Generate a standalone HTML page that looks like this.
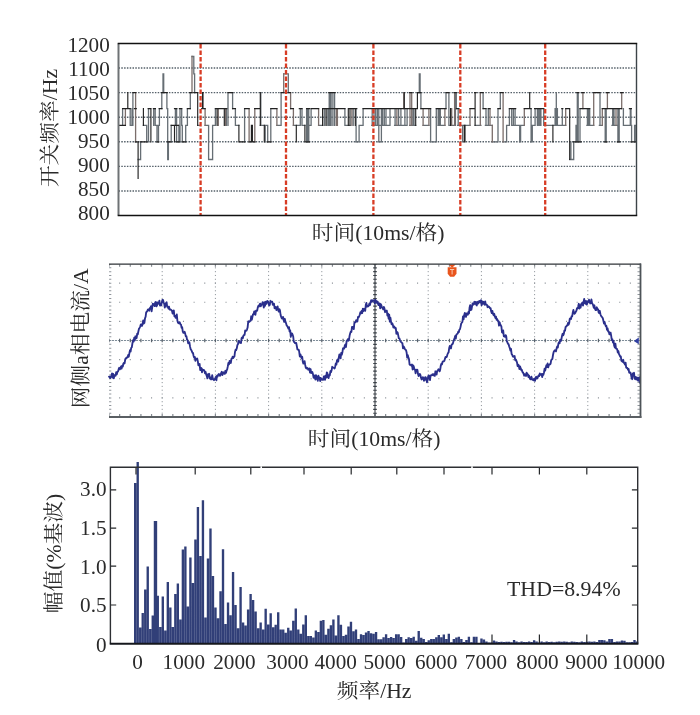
<!DOCTYPE html>
<html lang="zh-CN">
<head>
<meta charset="utf-8">
<title>开关频率 / 网侧a相电流 / 频谱</title>
<style>
html,body{margin:0;padding:0;background:#fff}
body{width:700px;height:715px;overflow:hidden}
svg{display:block;will-change:transform}
text{font-family:"Liberation Serif", "Noto Serif CJK SC", serif;fill:#2a2a2a}
.n{font-size:20px}
.t{font-size:20.5px}
.h{font-size:20.6px}
</style>
</head>
<body>
<svg width="700" height="715" viewBox="0 0 700 715">
<rect width="700" height="715" fill="#fff"/>
<g id="p1">
<line x1="118.5" y1="68.07" x2="636.5" y2="68.07" stroke="#56616a" stroke-width="1.45" stroke-dasharray="1.5 1.3"/>
<line x1="118.5" y1="92.64" x2="636.5" y2="92.64" stroke="#56616a" stroke-width="1.45" stroke-dasharray="1.5 1.3"/>
<line x1="118.5" y1="117.21" x2="636.5" y2="117.21" stroke="#56616a" stroke-width="1.45" stroke-dasharray="1.5 1.3"/>
<line x1="118.5" y1="141.79" x2="636.5" y2="141.79" stroke="#56616a" stroke-width="1.45" stroke-dasharray="1.5 1.3"/>
<line x1="118.5" y1="166.36" x2="636.5" y2="166.36" stroke="#56616a" stroke-width="1.45" stroke-dasharray="1.5 1.3"/>
<line x1="118.5" y1="190.93" x2="636.5" y2="190.93" stroke="#56616a" stroke-width="1.45" stroke-dasharray="1.5 1.3"/>
<path d="M122.6 108.6V125.3M130.2 108.6V125.3M132.0 108.6V125.3M130.2 125.3H132.9M132.9 92.6V125.3M138.1 159.5H140.6M140.6 141.8V159.5M143.4 125.3H146.7M146.7 125.3V141.8M148.5 108.6V141.8M153.7 108.6V125.3M155.2 108.6V125.3M155.2 125.3H157.2M157.0 125.3V141.8M158.5 125.3V141.8M159.4 108.6V125.3M161.8 92.6V108.6M163.0 73.8V92.6M163.7 73.8V92.6M166.9 92.6V108.6M167.7 108.6V159.5M168.4 141.8V159.5M171.2 125.3V141.8M175.4 108.6V125.3M176.6 108.6V141.8M178.9 125.3V141.8M180.0 108.6V141.8M181.7 108.6V125.3M182.3 125.3V141.8M185.7 125.3V141.8M185.7 125.3H187.4M187.4 108.6V125.3M190.3 92.6V108.6M192.0 56.5H193.8M193.8 56.5V73.8M194.6 73.8V92.6M197.7 125.3H199.4M205.1 125.3H208.6M208.6 125.3V159.5M208.6 159.5H212.6M212.6 125.3V159.5M212.6 125.3H215.4M215.4 108.6V125.3M226.4 108.6V125.3M228.0 92.6V125.3M232.6 92.6V108.6M235.4 108.6V125.3M235.4 125.3H238.9M244.6 108.6V141.8M260.8 92.6V125.3M260.3 125.3H264.3M265.2 125.3V141.8M264.3 125.3H267.7M267.7 125.3V141.8M270.8 108.6V141.8M276.9 125.3H281.1M281.1 92.6V125.3M283.7 73.8H288.3M288.3 73.8V92.6M293.4 125.3H300.3M300.3 108.6V125.3M302.0 108.6V125.3M302.0 125.3H304.9M306.6 108.6V141.8M307.7 108.6V141.8M308.8 108.6V141.8M309.0 125.3H311.1M311.1 108.6V125.3M318.6 125.3H322.6M324.3 108.6V125.3M329.2 92.6V125.3M329.9 92.6V125.3M327.1 108.6V125.3M328.6 108.6V125.3M331.1 92.6V125.3M332.9 92.6V125.3M334.6 92.6V125.3M344.9 108.6V125.3M344.9 125.3H350.0M353.2 108.6V125.3M356.1 108.6V141.8M355.7 141.8H359.1M359.1 125.3V141.8M359.1 125.3H363.1M363.1 108.6V125.3M372.2 108.6V125.3M374.0 108.6V125.3M375.7 108.6V125.3M377.4 108.6V125.3M378.8 108.6V141.8M378.2 141.8H381.6M381.4 108.6V141.8M382.6 108.6V125.3M384.3 108.6V125.3M386.0 108.6V125.3M371.7 125.3H390.0M390.0 108.6V125.3M395.1 108.6V125.3M398.6 108.6V125.3M394.6 125.3H406.0M400.9 108.6V125.3M404.9 108.6V125.3M407.1 108.6V125.3M404.9 125.3H407.1M412.9 108.6V125.3M414.0 108.6V125.3M409.6 125.3H415.7M419.3 73.8V92.6M420.1 73.8V92.6M420.9 92.6V108.6M423.1 125.3H428.9M430.6 108.6V141.8M430.6 141.8H436.3M436.3 108.6V141.8M438.2 108.6V125.3M439.3 108.6V125.3M440.3 108.6V125.3M438.0 125.3H444.9M446.0 92.6V108.6M448.9 92.6V125.3M448.9 125.3H454.6M455.4 92.6V125.3M456.3 92.6V108.6M458.2 108.6V125.3M457.6 125.3H462.6M462.6 125.3V141.8M462.6 125.3H470.0M475.1 125.3H480.9M483.1 92.6V108.6M486.0 108.6V125.3M485.4 125.3H492.3M488.3 108.6V125.3M492.3 141.8H498.0M498.0 108.6V141.8M500.3 92.6V108.6M503.1 141.8H506.6M506.6 125.3V141.8M506.6 125.3H509.4M509.4 108.6V125.3M511.7 108.6V125.3M513.4 108.6V125.3M515.1 108.6V125.3M511.7 125.3H523.7M519.7 125.3V141.8M520.6 125.3V141.8M531.1 108.6V141.8M530.6 141.8H532.3M532.3 125.3V141.8M532.3 125.3H535.1M535.1 108.6V125.3M537.4 108.6V125.3M538.3 108.6V125.3M539.7 108.6V125.3M540.9 108.6V125.3M543.7 108.6V125.3M543.7 125.3H558.0M555.1 108.6V125.3M556.3 92.6V125.3M557.4 108.6V125.3M558.0 125.3H565.7M562.3 108.6V125.3M570.9 141.8V159.5M569.7 159.5H573.7M573.7 141.8V159.5M576.0 125.3V141.8M576.0 125.3H578.0M577.3 92.6V141.8M578.2 92.6V141.8M580.0 108.6V141.8M587.4 108.6V125.3M588.4 108.6V125.3M586.9 125.3H593.7M589.7 108.6V125.3M600.0 92.6V125.3M599.4 125.3H602.3M605.2 108.6V141.8M606.2 108.6V141.8M612.7 108.6V125.3M614.0 108.6V125.3M612.0 125.3H617.1M617.9 108.6V141.8M619.2 108.6V141.8M623.4 108.6V125.3M623.4 125.3H630.3M630.3 108.6V125.3M631.0 108.6V125.3M631.6 125.3V141.8M634.6 125.3V141.8M635.2 125.3V141.8M634.6 125.3H636.3" fill="none" stroke="#666e74" stroke-width="1.3" stroke-linecap="square"/>
<path d="M125.4 108.6V125.3M135.6 92.6V141.8M192.0 56.5V92.6M205.1 108.6V125.3M218.3 108.6V125.3M225.4 108.6V125.3M249.1 108.6V141.8M254.8 108.6V141.8M276.9 108.6V125.3M283.7 73.8V92.6M290.6 92.6V108.6M293.4 108.6V125.3M318.6 108.6V125.3M336.3 108.6V125.3M337.4 108.6V125.3M351.9 108.6V125.3M396.9 108.6V125.3M403.7 92.6V108.6M410.0 92.6V125.3M411.7 92.6V125.3M423.1 108.6V125.3M428.9 108.6V125.3M444.9 108.6V125.3M451.7 108.6V125.3M454.6 92.6V125.3M470.0 108.6V125.3M480.3 92.6V125.3M490.0 108.6V125.3M492.3 125.3V141.8M503.1 92.6V141.8M524.3 108.6V125.3M565.7 108.6V125.3M582.9 92.6V108.6M593.7 92.6V125.3M602.3 108.6V125.3M607.4 92.6V108.6M616.0 108.6V125.3M621.7 92.6V108.6" fill="none" stroke="#7b6e6b" stroke-width="1.3" stroke-linecap="square"/>
<path d="M118.8 125.3H125.4M122.6 108.6H130.2M127.8 92.6V108.6M132.9 92.6H135.6M134.4 108.6H136.3M135.2 141.8H138.4M138.1 141.8V178.5M140.6 141.8H147.0M143.4 108.6V125.3M148.2 108.6H151.0M150.9 108.6V141.8M153.4 108.6H155.4M156.8 141.8H158.7M159.2 108.6H162.0M161.5 92.6H167.2M167.5 141.8H171.2M171.2 125.3H178.4M174.5 125.3V141.8M174.5 108.6H176.8M176.6 141.8H179.4M179.4 108.6H181.7M182.3 141.8H185.7M187.4 108.6H190.3M189.7 92.6H192.0M193.7 92.6H197.7M197.7 92.6V125.3M202.5 92.6V108.6M203.0 92.6V108.6M201.7 108.6H205.1M215.4 108.6H226.9M217.1 108.6V125.3M224.3 108.6V125.3M228.0 92.6H232.6M232.6 108.6H235.4M238.9 125.3V141.8M238.9 141.8H244.6M244.6 108.6H249.1M251.4 125.3V141.8M252.4 125.3V141.8M249.1 141.8H255.0M254.6 108.6H260.3M260.3 92.6V125.3M264.3 125.3V141.8M267.1 141.8H271.1M270.8 108.6H276.9M281.1 92.6H283.7M288.3 92.6H290.6M290.6 108.6H293.4M296.3 125.3V141.8M299.3 108.6H302.0M304.9 125.3V141.8M304.9 141.8H309.4M306.6 108.6H309.4M311.1 108.6H318.6M322.6 108.6V125.3M326.0 108.6V125.3M322.6 108.6H329.4M328.9 92.6H335.1M326.0 108.6H344.9M348.3 108.6V125.3M350.0 108.6V125.3M348.3 108.6H353.4M355.3 108.6V125.3M353.4 108.6H356.8M363.1 108.6H406.0M404.3 92.6V108.6M402.0 108.6H417.0M409.6 92.6H412.0M415.7 108.6V125.3M417.4 92.6V108.6M417.4 92.6H420.9M420.9 108.6H430.6M436.3 108.6H446.0M446.0 92.6H448.9M450.6 108.6V125.3M454.0 92.6H456.3M456.3 108.6H459.0M464.3 125.3V141.8M465.0 125.3V141.8M470.0 108.6H475.1M475.1 92.6V125.3M474.6 92.6H476.2M480.3 92.6H483.1M483.1 108.6H486.0M488.3 108.6H490.0M498.0 108.6H500.3M500.3 92.6H503.1M509.4 108.6H515.7M524.3 108.6H531.1M529.7 92.6V108.6M534.6 108.6H543.7M552.9 125.3V141.8M561.8 108.6H562.8M565.7 108.6H569.7M569.7 108.6V159.5M573.4 141.8H576.2M576.8 92.6H578.8M577.3 141.8H581.0M580.0 108.6H589.7M581.8 92.6H584.0M593.7 92.6H600.0M602.3 108.6H621.7M604.6 141.8H607.0M606.3 92.6H608.6M617.4 141.8H620.0M620.6 92.6H622.9M629.4 108.6H631.4M630.9 141.8H635.4" fill="none" stroke="#222222" stroke-width="1.15" stroke-linecap="square"/>
<line x1="200.6" y1="44.0" x2="200.6" y2="215.0" stroke="#d83c25" stroke-width="2.3" stroke-dasharray="4.4 2.1"/>
<line x1="286.0" y1="44.0" x2="286.0" y2="215.0" stroke="#d83c25" stroke-width="2.3" stroke-dasharray="4.4 2.1"/>
<line x1="373.4" y1="44.0" x2="373.4" y2="215.0" stroke="#d83c25" stroke-width="2.3" stroke-dasharray="4.4 2.1"/>
<line x1="460.3" y1="44.0" x2="460.3" y2="215.0" stroke="#d83c25" stroke-width="2.3" stroke-dasharray="4.4 2.1"/>
<line x1="545.2" y1="44.0" x2="545.2" y2="215.0" stroke="#d83c25" stroke-width="2.3" stroke-dasharray="4.4 2.1"/>
<path d="M118.5 215.5V43.5" stroke="#6e7275" stroke-width="2.0" fill="none"/>
<path d="M636.5 215.5V43.5" stroke="#3c4448" stroke-width="1.4" fill="none"/>
<path d="M117.7 43.5H637.2" stroke="#111" stroke-width="1.5" fill="none"/>
<path d="M117.7 215.5H637.2" stroke="#111" stroke-width="1.5" fill="none"/>
<text transform="translate(109.80 52.35) scale(1.06 1)" text-anchor="end" class="n">1200</text>
<text transform="translate(109.80 76.25) scale(1.06 1)" text-anchor="end" class="n">1100</text>
<text transform="translate(109.80 100.05) scale(1.06 1)" text-anchor="end" class="n">1050</text>
<text transform="translate(109.80 123.95) scale(1.06 1)" text-anchor="end" class="n">1000</text>
<text transform="translate(109.80 148.05) scale(1.06 1)" text-anchor="end" class="n">950</text>
<text transform="translate(109.80 171.95) scale(1.06 1)" text-anchor="end" class="n">900</text>
<text transform="translate(109.80 196.15) scale(1.06 1)" text-anchor="end" class="n">850</text>
<text transform="translate(109.80 219.75) scale(1.06 1)" text-anchor="end" class="n">800</text>
<text transform="translate(57.00 128.00) rotate(-90) scale(1.06 1)" text-anchor="middle" class="t">开关频率/Hz</text>
<text transform="translate(378.20 240.00) scale(1.06 1)" text-anchor="middle" class="t">时间(10ms/格)</text>
</g>
<g id="p2">
<line x1="162.20" y1="264.0" x2="162.20" y2="417.0" stroke="#8e949a" stroke-width="1" stroke-dasharray="1.1 2.725" stroke-dashoffset="0.55"/>
<line x1="215.40" y1="264.0" x2="215.40" y2="417.0" stroke="#8e949a" stroke-width="1" stroke-dasharray="1.1 2.725" stroke-dashoffset="0.55"/>
<line x1="268.60" y1="264.0" x2="268.60" y2="417.0" stroke="#8e949a" stroke-width="1" stroke-dasharray="1.1 2.725" stroke-dashoffset="0.55"/>
<line x1="321.80" y1="264.0" x2="321.80" y2="417.0" stroke="#8e949a" stroke-width="1" stroke-dasharray="1.1 2.725" stroke-dashoffset="0.55"/>
<line x1="428.20" y1="264.0" x2="428.20" y2="417.0" stroke="#8e949a" stroke-width="1" stroke-dasharray="1.1 2.725" stroke-dashoffset="0.55"/>
<line x1="481.40" y1="264.0" x2="481.40" y2="417.0" stroke="#8e949a" stroke-width="1" stroke-dasharray="1.1 2.725" stroke-dashoffset="0.55"/>
<line x1="534.60" y1="264.0" x2="534.60" y2="417.0" stroke="#8e949a" stroke-width="1" stroke-dasharray="1.1 2.725" stroke-dashoffset="0.55"/>
<line x1="587.80" y1="264.0" x2="587.80" y2="417.0" stroke="#8e949a" stroke-width="1" stroke-dasharray="1.1 2.725" stroke-dashoffset="0.55"/>
<line x1="109.0" y1="283.12" x2="641.0" y2="283.12" stroke="#8e949a" stroke-width="1.1" stroke-dasharray="1.1 9.540" stroke-dashoffset="0.55"/>
<line x1="109.0" y1="302.25" x2="641.0" y2="302.25" stroke="#8e949a" stroke-width="1.1" stroke-dasharray="1.1 9.540" stroke-dashoffset="0.55"/>
<line x1="109.0" y1="321.38" x2="641.0" y2="321.38" stroke="#8e949a" stroke-width="1.1" stroke-dasharray="1.1 9.540" stroke-dashoffset="0.55"/>
<line x1="109.0" y1="359.62" x2="641.0" y2="359.62" stroke="#8e949a" stroke-width="1.1" stroke-dasharray="1.1 9.540" stroke-dashoffset="0.55"/>
<line x1="109.0" y1="378.75" x2="641.0" y2="378.75" stroke="#8e949a" stroke-width="1.1" stroke-dasharray="1.1 9.540" stroke-dashoffset="0.55"/>
<line x1="109.0" y1="397.88" x2="641.0" y2="397.88" stroke="#8e949a" stroke-width="1.1" stroke-dasharray="1.1 9.540" stroke-dashoffset="0.55"/>
<line x1="110.2" y1="264.0" x2="110.2" y2="417.0" stroke="#8f959b" stroke-width="2.2" stroke-dasharray="1 2.825" stroke-dashoffset="0.5"/>
<line x1="638.7" y1="264.0" x2="638.7" y2="417.0" stroke="#8f959b" stroke-width="2.4" stroke-dasharray="1 2.825" stroke-dashoffset="0.5"/>
<line x1="109.0" y1="265.6" x2="641.0" y2="265.6" stroke="#858b91" stroke-width="2.2" stroke-dasharray="1.2 9.440" stroke-dashoffset="0.6"/>
<line x1="109.0" y1="415.0" x2="641.0" y2="415.0" stroke="#858b91" stroke-width="2.2" stroke-dasharray="1.2 9.440" stroke-dashoffset="0.6"/>
<line x1="109.0" y1="340.50" x2="641.0" y2="340.50" stroke="#7f8d99" stroke-width="1.0" stroke-dasharray="2.1 0.9"/>
<line x1="109.0" y1="340.50" x2="641.0" y2="340.50" stroke="#59626b" stroke-width="3.4" stroke-dasharray="1.2 9.440" stroke-dashoffset="0.6"/>
<line x1="375.00" y1="264.0" x2="375.00" y2="417.0" stroke="#3a3f46" stroke-width="1.1"/>
<line x1="375.00" y1="264.0" x2="375.00" y2="417.0" stroke="#3a4047" stroke-width="3.6" stroke-dasharray="1.1 2.725" stroke-dashoffset="0.55"/>
<path d="M109.0 376.6L109.6 376.9L110.2 378.1L110.8 377.0L111.4 375.6L112.0 373.5L112.6 377.7L113.2 373.9L113.8 378.3L114.4 375.6L115.0 374.9L115.6 375.8L116.2 372.2L116.8 374.4L117.4 372.0L118.0 371.4L118.6 369.4L119.2 367.8L119.8 369.3L120.4 368.6L121.0 366.5L121.6 368.6L122.2 365.8L122.8 366.5L123.4 363.5L124.0 362.7L124.6 363.4L125.2 359.5L125.8 358.2L126.4 358.4L127.0 357.2L127.6 357.3L128.2 354.9L128.8 356.7L129.4 353.2L130.0 350.3L130.6 351.5L131.2 347.9L131.8 347.4L132.4 343.5L133.0 340.3L133.6 341.6L134.2 337.8L134.8 340.3L135.4 336.3L136.0 338.2L136.6 338.2L137.2 333.6L137.8 334.3L138.4 331.3L139.0 328.7L139.6 328.0L140.2 326.5L140.8 324.5L141.4 324.5L142.0 326.0L142.6 323.9L143.2 320.4L143.8 323.5L144.4 322.8L145.0 318.4L145.6 316.8L146.2 312.2L146.8 311.8L147.4 310.7L148.0 309.4L148.6 309.4L149.2 310.7L149.8 308.1L150.4 307.9L151.0 306.2L151.6 311.3L152.2 307.7L152.8 303.7L153.4 304.1L154.0 304.7L154.6 306.1L155.2 302.5L155.8 301.9L156.4 306.3L157.0 305.7L157.6 302.4L158.2 303.2L158.8 303.7L159.4 300.6L160.0 305.6L160.6 305.4L161.2 305.3L161.8 302.5L162.4 299.9L163.0 300.0L163.6 302.3L164.2 303.7L164.8 307.5L165.4 305.4L166.0 303.0L166.6 302.2L167.2 306.9L167.8 306.5L168.4 308.5L169.0 306.6L169.6 309.6L170.2 309.1L170.8 309.6L171.4 310.2L172.0 310.9L172.6 313.5L173.2 311.2L173.8 310.4L174.4 316.2L175.0 315.7L175.6 317.8L176.2 317.2L176.8 314.5L177.4 320.8L178.0 322.8L178.6 323.2L179.2 322.2L179.8 322.4L180.4 324.4L181.0 324.6L181.6 327.7L182.2 327.3L182.8 331.7L183.4 332.9L184.0 332.6L184.6 331.7L185.2 333.6L185.8 336.4L186.4 336.1L187.0 339.5L187.6 340.2L188.2 343.3L188.8 342.4L189.4 342.3L190.0 346.4L190.6 349.0L191.2 349.9L191.8 351.1L192.4 352.8L193.0 352.9L193.6 356.0L194.2 357.6L194.8 357.0L195.4 360.8L196.0 358.7L196.6 359.3L197.2 358.4L197.8 361.1L198.4 365.3L199.0 364.4L199.6 363.9L200.2 370.0L200.8 369.4L201.4 368.0L202.0 372.4L202.6 369.5L203.2 370.2L203.8 370.0L204.4 370.6L205.0 373.4L205.6 371.9L206.2 374.5L206.8 376.1L207.4 378.4L208.0 374.1L208.6 376.2L209.2 373.8L209.8 378.6L210.4 377.4L211.0 379.4L211.6 379.3L212.2 375.1L212.8 378.4L213.4 379.6L214.0 380.2L214.6 379.2L215.2 378.6L215.8 376.9L216.4 380.3L217.0 375.7L217.6 376.6L218.2 374.8L218.8 374.0L219.4 374.6L220.0 375.8L220.6 374.7L221.2 372.9L221.8 371.8L222.4 375.0L223.0 372.9L223.6 372.3L224.2 373.6L224.8 373.9L225.4 370.8L226.0 372.9L226.6 370.5L227.2 369.4L227.8 366.4L228.4 363.0L229.0 364.3L229.6 360.9L230.2 362.6L230.8 363.0L231.4 359.0L232.0 358.5L232.6 356.7L233.2 358.1L233.8 357.1L234.4 356.6L235.0 352.0L235.6 349.7L236.2 350.0L236.8 348.3L237.4 345.0L238.0 344.2L238.6 340.9L239.2 341.3L239.8 342.6L240.4 342.9L241.0 343.0L241.6 338.1L242.2 337.4L242.8 338.3L243.4 335.7L244.0 335.0L244.6 334.8L245.2 330.4L245.8 330.9L246.4 330.7L247.0 329.6L247.6 327.6L248.2 321.8L248.8 321.3L249.4 321.8L250.0 320.9L250.6 320.8L251.2 316.3L251.8 319.7L252.4 317.1L253.0 314.1L253.6 314.4L254.2 311.5L254.8 311.5L255.4 314.9L256.0 310.7L256.6 311.0L257.2 310.7L257.8 307.3L258.4 305.8L259.0 306.6L259.6 304.6L260.2 303.6L260.8 306.3L261.4 304.4L262.0 304.6L262.6 302.2L263.2 303.5L263.8 307.6L264.4 302.3L265.0 305.9L265.6 301.8L266.2 303.9L266.8 301.6L267.4 300.9L268.0 301.4L268.6 304.0L269.2 305.5L269.8 304.8L270.4 300.8L271.0 301.7L271.6 301.8L272.2 301.7L272.8 304.8L273.4 303.9L274.0 303.6L274.6 308.3L275.2 307.4L275.8 307.0L276.4 310.0L277.0 308.5L277.6 306.5L278.2 310.1L278.8 311.6L279.4 309.2L280.0 310.5L280.6 315.0L281.2 316.9L281.8 318.3L282.4 318.6L283.0 316.9L283.6 319.9L284.2 321.9L284.8 318.8L285.4 321.7L286.0 323.1L286.6 325.3L287.2 326.0L287.8 327.2L288.4 328.5L289.0 327.2L289.6 331.6L290.2 330.3L290.8 336.9L291.4 333.4L292.0 333.4L292.6 334.7L293.2 336.5L293.8 341.8L294.4 341.8L295.0 343.1L295.6 343.1L296.2 343.0L296.8 346.0L297.4 349.3L298.0 349.6L298.6 349.6L299.2 351.6L299.8 356.5L300.4 354.3L301.0 356.3L301.6 358.1L302.2 356.8L302.8 361.7L303.4 363.6L304.0 362.7L304.6 361.1L305.2 364.9L305.8 367.7L306.4 368.6L307.0 367.8L307.6 368.2L308.2 369.7L308.8 368.9L309.4 368.4L310.0 372.5L310.6 369.1L311.2 373.1L311.8 371.9L312.4 372.2L313.0 374.3L313.6 377.6L314.2 377.9L314.8 375.4L315.4 379.5L316.0 375.2L316.6 378.7L317.2 376.7L317.8 380.8L318.4 375.7L319.0 377.5L319.6 377.6L320.2 381.1L320.8 378.0L321.4 379.7L322.0 379.3L322.6 379.8L323.2 379.9L323.8 376.4L324.4 376.5L325.0 379.8L325.6 375.6L326.2 377.7L326.8 372.4L327.4 373.1L328.0 377.4L328.6 378.0L329.2 375.0L329.8 375.3L330.4 371.1L331.0 372.2L331.6 370.3L332.2 366.8L332.8 367.5L333.4 367.6L334.0 368.0L334.6 368.5L335.2 366.4L335.8 363.5L336.4 364.6L337.0 360.3L337.6 359.6L338.2 361.6L338.8 357.5L339.4 354.5L340.0 356.1L340.6 358.3L341.2 352.9L341.8 354.7L342.4 352.3L343.0 348.4L343.6 348.1L344.2 348.6L344.8 345.5L345.4 344.5L346.0 347.0L346.6 341.1L347.2 340.6L347.8 339.1L348.4 340.7L349.0 339.7L349.6 335.6L350.2 333.2L350.8 331.5L351.4 332.0L352.0 326.9L352.6 327.0L353.2 328.3L353.8 329.1L354.4 322.5L355.0 322.2L355.6 322.3L356.2 320.1L356.8 321.0L357.4 321.5L358.0 317.0L358.6 317.4L359.2 316.1L359.8 314.5L360.4 312.3L361.0 313.5L361.6 310.9L362.2 313.0L362.8 308.8L363.4 311.1L364.0 308.8L364.6 310.3L365.2 310.8L365.8 304.9L366.4 303.0L367.0 306.7L367.6 306.2L368.2 306.3L368.8 305.6L369.4 303.4L370.0 305.0L370.6 302.1L371.2 300.2L371.8 301.8L372.4 301.1L373.0 300.1L373.6 300.8L374.2 300.4L374.8 303.4L375.4 299.6L376.0 302.2L376.6 301.1L377.2 303.2L377.8 301.8L378.4 305.1L379.0 303.6L379.6 303.4L380.2 308.3L380.8 304.2L381.4 305.5L382.0 307.5L382.6 308.3L383.2 309.4L383.8 306.9L384.4 308.2L385.0 312.2L385.6 310.5L386.2 311.2L386.8 310.6L387.4 315.6L388.0 313.6L388.6 318.7L389.2 314.6L389.8 321.6L390.4 317.7L391.0 321.6L391.6 324.3L392.2 323.2L392.8 324.6L393.4 327.5L394.0 326.4L394.6 327.1L395.2 328.5L395.8 328.0L396.4 333.8L397.0 332.0L397.6 332.4L398.2 335.1L398.8 338.2L399.4 338.3L400.0 340.3L400.6 341.7L401.2 342.0L401.8 342.8L402.4 343.2L403.0 348.4L403.6 346.4L404.2 347.3L404.8 349.0L405.4 349.7L406.0 350.1L406.6 352.4L407.2 357.7L407.8 355.1L408.4 357.7L409.0 359.1L409.6 364.7L410.2 364.7L410.8 364.8L411.4 365.8L412.0 364.5L412.6 369.5L413.2 365.5L413.8 366.7L414.4 369.2L415.0 369.7L415.6 373.3L416.2 369.7L416.8 371.1L417.4 369.8L418.0 373.9L418.6 376.0L419.2 375.1L419.8 373.9L420.4 375.0L421.0 377.8L421.6 379.5L422.2 378.8L422.8 377.2L423.4 377.9L424.0 380.7L424.6 380.2L425.2 377.2L425.8 377.4L426.4 379.1L427.0 382.3L427.6 380.4L428.2 376.2L428.8 375.4L429.4 377.8L430.0 380.1L430.6 375.5L431.2 375.4L431.8 375.1L432.4 374.3L433.0 375.2L433.6 374.1L434.2 375.5L434.8 375.9L435.4 371.3L436.0 372.4L436.6 374.6L437.2 370.9L437.8 370.5L438.4 369.3L439.0 369.7L439.6 371.4L440.2 369.7L440.8 365.5L441.4 363.7L442.0 364.4L442.6 361.7L443.2 361.3L443.8 361.3L444.4 360.8L445.0 358.6L445.6 356.9L446.2 357.2L446.8 356.9L447.4 354.5L448.0 353.1L448.6 352.4L449.2 348.1L449.8 345.9L450.4 348.1L451.0 348.4L451.6 344.8L452.2 344.1L452.8 343.8L453.4 341.6L454.0 339.8L454.6 338.0L455.2 335.9L455.8 338.7L456.4 334.7L457.0 334.0L457.6 333.7L458.2 331.8L458.8 332.2L459.4 329.7L460.0 329.1L460.6 326.6L461.2 323.5L461.8 322.7L462.4 322.0L463.0 316.4L463.6 319.4L464.2 315.2L464.8 312.9L465.4 316.5L466.0 316.8L466.6 313.4L467.2 313.8L467.8 314.8L468.4 312.0L469.0 313.5L469.6 307.4L470.2 305.1L470.8 310.1L471.4 309.7L472.0 306.6L472.6 303.4L473.2 304.7L473.8 304.4L474.4 301.8L475.0 303.9L475.6 302.0L476.2 304.6L476.8 305.4L477.4 301.8L478.0 303.6L478.6 302.9L479.2 301.0L479.8 301.6L480.4 302.4L481.0 300.2L481.6 305.3L482.2 301.3L482.8 303.7L483.4 301.8L484.0 304.0L484.6 304.7L485.2 301.5L485.8 304.6L486.4 304.5L487.0 305.0L487.6 307.2L488.2 306.3L488.8 306.6L489.4 307.2L490.0 308.2L490.6 308.2L491.2 311.5L491.8 313.1L492.4 311.0L493.0 313.9L493.6 315.2L494.2 313.8L494.8 316.3L495.4 318.0L496.0 316.6L496.6 319.8L497.2 319.0L497.8 320.9L498.4 320.9L499.0 325.7L499.6 322.3L500.2 324.1L500.8 325.3L501.4 326.5L502.0 332.3L502.6 332.8L503.2 330.5L503.8 336.2L504.4 336.1L505.0 336.8L505.6 335.1L506.2 336.1L506.8 341.3L507.4 342.3L508.0 343.8L508.6 344.3L509.2 346.5L509.8 348.1L510.4 350.6L511.0 348.8L511.6 353.9L512.2 354.8L512.8 356.5L513.4 356.2L514.0 357.0L514.6 356.0L515.2 360.2L515.8 359.4L516.4 361.0L517.0 362.3L517.6 366.2L518.2 364.6L518.8 365.6L519.4 369.1L520.0 366.4L520.6 368.1L521.2 370.1L521.8 369.7L522.4 371.9L523.0 372.5L523.6 373.8L524.2 375.7L524.8 374.1L525.4 375.2L526.0 376.1L526.6 372.6L527.2 374.6L527.8 374.3L528.4 377.0L529.0 375.5L529.6 377.8L530.2 379.2L530.8 379.4L531.4 376.7L532.0 378.6L532.6 379.8L533.2 379.2L533.8 380.3L534.4 378.6L535.0 380.9L535.6 377.8L536.2 376.8L536.8 378.6L537.4 378.4L538.0 376.7L538.6 375.5L539.2 376.1L539.8 373.5L540.4 374.3L541.0 375.0L541.6 374.0L542.2 377.0L542.8 374.0L543.4 374.7L544.0 372.5L544.6 368.6L545.2 370.6L545.8 367.7L546.4 365.1L547.0 367.1L547.6 363.4L548.2 367.4L548.8 365.3L549.4 364.5L550.0 364.4L550.6 363.6L551.2 360.2L551.8 359.5L552.4 358.9L553.0 355.0L553.6 352.2L554.2 351.0L554.8 350.3L555.4 350.8L556.0 351.4L556.6 348.4L557.2 346.5L557.8 347.5L558.4 343.6L559.0 342.2L559.6 343.3L560.2 339.7L560.8 341.1L561.4 339.4L562.0 335.9L562.6 333.8L563.2 335.4L563.8 334.0L564.4 330.4L565.0 330.8L565.6 327.0L566.2 326.6L566.8 325.5L567.4 325.5L568.0 322.9L568.6 324.7L569.2 323.0L569.8 318.7L570.4 318.3L571.0 319.0L571.6 316.2L572.2 316.3L572.8 312.4L573.4 309.9L574.0 313.5L574.6 313.8L575.2 313.0L575.8 311.7L576.4 310.8L577.0 308.2L577.6 308.6L578.2 306.5L578.8 303.8L579.4 308.6L580.0 305.5L580.6 307.6L581.2 304.1L581.8 303.4L582.4 302.6L583.0 305.6L583.6 302.1L584.2 299.0L584.8 303.1L585.4 303.7L586.0 301.0L586.6 304.5L587.2 303.9L587.8 301.1L588.4 302.0L589.0 299.7L589.6 302.0L590.2 303.5L590.8 303.2L591.4 299.5L592.0 302.9L592.6 304.0L593.2 305.5L593.8 307.8L594.4 305.3L595.0 308.9L595.6 310.1L596.2 310.0L596.8 307.3L597.4 309.4L598.0 309.2L598.6 312.4L599.2 313.1L599.8 310.8L600.4 314.2L601.0 315.8L601.6 316.6L602.2 317.2L602.8 318.2L603.4 320.8L604.0 323.6L604.6 321.9L605.2 324.5L605.8 326.3L606.4 325.8L607.0 329.9L607.6 328.3L608.2 331.6L608.8 331.5L609.4 334.3L610.0 333.6L610.6 332.6L611.2 335.9L611.8 340.1L612.4 339.3L613.0 342.5L613.6 341.0L614.2 345.8L614.8 347.5L615.4 343.7L616.0 348.6L616.6 348.6L617.2 349.4L617.8 352.6L618.4 351.1L619.0 354.1L619.6 355.2L620.2 356.5L620.8 356.4L621.4 360.8L622.0 361.2L622.6 361.8L623.2 359.8L623.8 362.7L624.4 363.4L625.0 364.5L625.6 362.6L626.2 367.6L626.8 368.0L627.4 368.0L628.0 369.8L628.6 368.9L629.2 372.7L629.8 372.9L630.4 372.5L631.0 374.6L631.6 377.7L632.2 379.2L632.8 373.5L633.4 373.7L634.0 372.8L634.6 378.3L635.2 379.2L635.8 376.9L636.4 378.5L637.0 379.7L637.6 377.7L638.2 380.8L638.8 378.8L639.4 377.3L640.0 382.8" fill="none" stroke="#2a2f8c" stroke-width="1.85" stroke-linejoin="round" stroke-linecap="round"/>
<path d="M447.7 267.2h8.8v6.6l-2.4 3h-4l-2.4-3z" fill="#e9551d"/>
<path d="M448.6 264.6h7l-3.5 3.2z" fill="#e9551d"/>
<path d="M450 269h4.2v1.1h-1.6v4.5h-1v-4.5h-1.6z" fill="#f9c9ae"/>
<path d="M633.8 340.9l5 -3.4v6.8z" fill="#2f3ea0"/>
<path d="M109.0 264.1H641.0" stroke="#2f3337" stroke-width="1.3" fill="none"/>
<path d="M640.5 263.5V418.0" stroke="#4d5358" stroke-width="1.8" fill="none"/>
<path d="M109.0 417.0H641.4" stroke="#5a5f63" stroke-width="2.2" fill="none"/>
<text transform="translate(88.00 338.30) rotate(-90) scale(1.06 1)" text-anchor="middle" class="t">网侧a相电流/A</text>
<text transform="translate(374.20 446.30) scale(1.06 1)" text-anchor="middle" class="t">时间(10ms/格)</text>
</g>
<g id="p3">
<path d="M134.02 643.6v-160.6h2.36v160.6zM136.53 643.6v-181.5h2.36v181.5zM139.04 643.6v-16.0h2.36v16.0zM141.55 643.6v-30.5h2.36v30.5zM144.06 643.6v-54.0h2.36v54.0zM146.56 643.6v-77.0h2.36v77.0zM149.07 643.6v-14.6h2.36v14.6zM151.58 643.6v-28.0h2.36v28.0zM153.77 643.6v-122.6h3.4v122.6zM156.60 643.6v-47.8h2.36v47.8zM159.11 643.6v-16.5h2.36v16.5zM161.62 643.6v-47.0h2.36v47.0zM164.13 643.6v-13.0h2.36v13.0zM166.64 643.6v-61.6h2.36v61.6zM169.15 643.6v-36.0h2.36v36.0zM171.65 643.6v-16.5h2.36v16.5zM174.16 643.6v-49.6h2.36v49.6zM176.67 643.6v-60.0h2.36v60.0zM179.18 643.6v-24.0h2.36v24.0zM181.69 643.6v-94.0h2.36v94.0zM184.20 643.6v-97.0h2.36v97.0zM186.71 643.6v-37.0h2.36v37.0zM189.22 643.6v-86.0h2.36v86.0zM191.73 643.6v-60.5h2.36v60.5zM194.24 643.6v-104.0h2.36v104.0zM196.74 643.6v-136.7h2.36v136.7zM199.25 643.6v-87.6h2.36v87.6zM201.76 643.6v-143.3h2.36v143.3zM204.27 643.6v-26.0h2.36v26.0zM206.78 643.6v-85.0h2.36v85.0zM209.29 643.6v-115.0h2.36v115.0zM211.80 643.6v-67.7h2.36v67.7zM214.31 643.6v-36.0h2.36v36.0zM216.82 643.6v-25.4h2.36v25.4zM219.33 643.6v-52.3h2.36v52.3zM221.83 643.6v-94.3h2.36v94.3zM224.34 643.6v-19.7h2.36v19.7zM226.85 643.6v-41.0h2.36v41.0zM229.36 643.6v-28.3h2.36v28.3zM231.87 643.6v-71.5h2.36v71.5zM234.38 643.6v-38.6h2.36v38.6zM236.89 643.6v-15.4h2.36v15.4zM239.40 643.6v-56.6h2.36v56.6zM241.91 643.6v-21.0h2.36v21.0zM244.42 643.6v-18.0h2.36v18.0zM246.92 643.6v-34.0h2.36v34.0zM249.43 643.6v-49.7h2.36v49.7zM251.94 643.6v-43.7h2.36v43.7zM254.45 643.6v-32.2h2.36v32.2zM256.96 643.6v-15.4h2.36v15.4zM259.47 643.6v-21.0h2.36v21.0zM261.98 643.6v-14.0h2.36v14.0zM264.49 643.6v-34.8h2.36v34.8zM267.00 643.6v-19.2h2.36v19.2zM269.51 643.6v-30.3h2.36v30.3zM272.01 643.6v-16.3h2.36v16.3zM274.52 643.6v-18.9h2.36v18.9zM277.03 643.6v-31.4h2.36v31.4zM279.54 643.6v-14.2h2.36v14.2zM282.05 643.6v-14.2h2.36v14.2zM284.56 643.6v-10.8h2.36v10.8zM287.07 643.6v-15.8h2.36v15.8zM289.58 643.6v-13.2h2.36v13.2zM292.09 643.6v-22.8h2.36v22.8zM294.60 643.6v-35.1h2.36v35.1zM297.10 643.6v-14.0h2.36v14.0zM299.61 643.6v-9.8h2.36v9.8zM302.12 643.6v-19.2h2.36v19.2zM304.63 643.6v-28.3h2.36v28.3zM307.14 643.6v-7.7h2.36v7.7zM309.65 643.6v-7.7h2.36v7.7zM312.16 643.6v-6.0h2.36v6.0zM314.67 643.6v-13.2h2.36v13.2zM317.18 643.6v-11.7h2.36v11.7zM319.69 643.6v-22.8h2.36v22.8zM322.19 643.6v-23.7h2.36v23.7zM324.70 643.6v-8.9h2.36v8.9zM327.21 643.6v-14.9h2.36v14.9zM329.72 643.6v-18.3h2.36v18.3zM332.23 643.6v-24.0h2.36v24.0zM334.74 643.6v-8.0h2.36v8.0zM337.25 643.6v-28.3h2.36v28.3zM339.76 643.6v-18.9h2.36v18.9zM342.27 643.6v-7.5h2.36v7.5zM344.78 643.6v-8.9h2.36v8.9zM347.28 643.6v-17.1h2.36v17.1zM349.79 643.6v-21.8h2.36v21.8zM352.30 643.6v-12.3h2.36v12.3zM354.81 643.6v-14.0h2.36v14.0zM357.32 643.6v-4.6h2.36v4.6zM359.83 643.6v-9.4h2.36v9.4zM362.34 643.6v-8.6h2.36v8.6zM364.85 643.6v-11.1h2.36v11.1zM367.36 643.6v-12.7h2.36v12.7zM369.87 643.6v-10.3h2.36v10.3zM372.37 643.6v-9.8h2.36v9.8zM374.88 643.6v-11.5h2.36v11.5zM377.39 643.6v-4.3h2.36v4.3zM379.90 643.6v-4.3h2.36v4.3zM382.41 643.6v-6.3h2.36v6.3zM384.92 643.6v-9.3h2.36v9.3zM387.43 643.6v-5.5h2.36v5.5zM389.94 643.6v-6.7h2.36v6.7zM392.45 643.6v-5.5h2.36v5.5zM394.96 643.6v-9.3h2.36v9.3zM397.46 643.6v-9.3h2.36v9.3zM399.97 643.6v-6.7h2.36v6.7zM402.48 643.6v-1.2h2.36v1.2zM404.99 643.6v-4.6h2.36v4.6zM407.50 643.6v-6.3h2.36v6.3zM410.01 643.6v-5.5h2.36v5.5zM412.52 643.6v-6.9h2.36v6.9zM415.03 643.6v-2.9h2.36v2.9zM417.54 643.6v-12.7h2.36v12.7zM420.05 643.6v-5.8h2.36v5.8zM422.55 643.6v-4.6h2.36v4.6zM425.06 643.6v-1.5h2.36v1.5zM427.57 643.6v-3.4h2.36v3.4zM430.08 643.6v-4.6h2.36v4.6zM432.59 643.6v-4.6h2.36v4.6zM435.10 643.6v-6.3h2.36v6.3zM437.61 643.6v-8.5h2.36v8.5zM440.12 643.6v-6.3h2.36v6.3zM442.63 643.6v-9.1h2.36v9.1zM445.14 643.6v-4.7h2.36v4.7zM447.64 643.6v-9.9h2.36v9.9zM450.15 643.6v-1.3h2.36v1.3zM452.66 643.6v-4.7h2.36v4.7zM455.17 643.6v-6.0h2.36v6.0zM457.68 643.6v-6.8h2.36v6.8zM460.19 643.6v-4.7h2.36v4.7zM462.70 643.6v-1.6h2.36v1.6zM465.21 643.6v-3.6h2.36v3.6zM467.72 643.6v-6.8h2.36v6.8zM470.23 643.6v-1.3h2.36v1.3zM472.73 643.6v-6.8h2.36v6.8zM475.24 643.6v-6.8h2.36v6.8zM477.75 643.6v-0.6h2.36v0.6zM480.26 643.6v-5.2h2.36v5.2zM482.77 643.6v-4.1h2.36v4.1zM485.28 643.6v-2.0h2.36v2.0zM487.79 643.6v-1.0h2.36v1.0zM490.30 643.6v-1.0h2.36v1.0zM492.81 643.6v-3.1h2.36v3.1zM495.32 643.6v-2.0h2.36v2.0zM497.82 643.6v-1.5h2.36v1.5zM500.33 643.6v-1.8h2.36v1.8zM502.84 643.6v-1.6h2.36v1.6zM505.35 643.6v-1.8h2.36v1.8zM507.86 643.6v-1.9h2.36v1.9zM510.37 643.6v-1.4h2.36v1.4zM512.88 643.6v-3.6h2.36v3.6zM515.39 643.6v-2.0h2.36v2.0zM517.90 643.6v-1.3h2.36v1.3zM520.41 643.6v-2.1h2.36v2.1zM522.92 643.6v-1.5h2.36v1.5zM525.42 643.6v-1.5h2.36v1.5zM527.93 643.6v-2.2h2.36v2.2zM530.44 643.6v-1.7h2.36v1.7zM532.95 643.6v-3.3h2.36v3.3zM535.46 643.6v-2.0h2.36v2.0zM537.97 643.6v-1.2h2.36v1.2zM540.48 643.6v-2.0h2.36v2.0zM542.99 643.6v-1.3h2.36v1.3zM545.50 643.6v-2.1h2.36v2.1zM548.00 643.6v-1.7h2.36v1.7zM550.51 643.6v-1.9h2.36v1.9zM553.02 643.6v-1.4h2.36v1.4zM555.53 643.6v-1.9h2.36v1.9zM558.04 643.6v-2.1h2.36v2.1zM560.55 643.6v-1.8h2.36v1.8zM563.06 643.6v-2.0h2.36v2.0zM565.57 643.6v-1.9h2.36v1.9zM568.08 643.6v-1.4h2.36v1.4zM570.59 643.6v-2.0h2.36v2.0zM573.10 643.6v-1.8h2.36v1.8zM575.60 643.6v-1.6h2.36v1.6zM578.11 643.6v-1.3h2.36v1.3zM580.62 643.6v-2.1h2.36v2.1zM583.13 643.6v-1.7h2.36v1.7zM585.64 643.6v-1.9h2.36v1.9zM588.15 643.6v-2.1h2.36v2.1zM590.66 643.6v-1.9h2.36v1.9zM593.17 643.6v-2.1h2.36v2.1zM595.68 643.6v-1.7h2.36v1.7zM598.19 643.6v-3.6h2.36v3.6zM600.69 643.6v-3.6h2.36v3.6zM603.20 643.6v-3.4h2.36v3.4zM605.71 643.6v-2.0h2.36v2.0zM608.22 643.6v-4.7h2.36v4.7zM610.73 643.6v-4.5h2.36v4.5zM613.24 643.6v-1.7h2.36v1.7zM615.75 643.6v-2.1h2.36v2.1zM618.26 643.6v-2.1h2.36v2.1zM620.77 643.6v-3.0h2.36v3.0zM623.27 643.6v-2.8h2.36v2.8zM625.78 643.6v-1.4h2.36v1.4zM628.29 643.6v-1.4h2.36v1.4zM630.80 643.6v-1.5h2.36v1.5zM633.31 643.6v-3.6h2.36v3.6zM635.82 643.6v-2.2h2.36v2.2z" fill="#313f78"/>
<path d="M136.0 467.3v7.2M195.2 467.3v7.2M250.8 467.3v7.2M304.0 467.3v7.2M351.2 467.3v7.2M396.8 467.3v7.2M444.0 467.3v7.2M492.0 467.3v7.2M492.0 643.6v-9M539.4 467.3v7.2M539.4 643.6v-9M586.8 467.3v7.2M586.8 643.6v-9M110.4 489.9h5.8M637.7 489.9h-5.8M110.4 528.2h5.8M637.7 528.2h-5.8M110.4 566.2h5.8M637.7 566.2h-5.8M110.4 605.0h5.8M637.7 605.0h-5.8" stroke="#26282b" stroke-width="1.2" fill="none"/>
<path d="M110.4 643.6V467.3H637.7V643.6" stroke="#2d2f33" stroke-width="1.4" fill="none"/>
<path d="M109.7 643.8000000000001H638.4000000000001" stroke="#15171c" stroke-width="1.9" fill="none"/>
<rect x="260.4" y="466.3" width="1.6" height="2" fill="#fff"/>
<rect x="471.2" y="466.3" width="1.6" height="2" fill="#fff"/>
<text transform="translate(106.60 496.35) scale(1.06 1)" text-anchor="end" class="n">3.0</text>
<text transform="translate(106.60 535.35) scale(1.06 1)" text-anchor="end" class="n">1.5</text>
<text transform="translate(106.60 573.85) scale(1.06 1)" text-anchor="end" class="n">1.0</text>
<text transform="translate(106.60 612.35) scale(1.06 1)" text-anchor="end" class="n">0.5</text>
<text transform="translate(106.60 652.15) scale(1.06 1)" text-anchor="end" class="n">0</text>
<text transform="translate(137.50 669.30) scale(1.06 1)" text-anchor="middle" class="n">0</text>
<text transform="translate(183.80 669.30) scale(1.06 1)" text-anchor="middle" class="n">1000</text>
<text transform="translate(234.40 669.30) scale(1.06 1)" text-anchor="middle" class="n">2000</text>
<text transform="translate(287.50 669.30) scale(1.06 1)" text-anchor="middle" class="n">3000</text>
<text transform="translate(335.70 669.30) scale(1.06 1)" text-anchor="middle" class="n">4000</text>
<text transform="translate(384.70 669.30) scale(1.06 1)" text-anchor="middle" class="n">5000</text>
<text transform="translate(436.10 669.30) scale(1.06 1)" text-anchor="middle" class="n">6000</text>
<text transform="translate(486.00 669.30) scale(1.06 1)" text-anchor="middle" class="n">7000</text>
<text transform="translate(537.50 669.30) scale(1.06 1)" text-anchor="middle" class="n">8000</text>
<text transform="translate(586.40 669.30) scale(1.06 1)" text-anchor="middle" class="n">9000</text>
<text transform="translate(638.70 669.30) scale(1.06 1)" text-anchor="middle" class="n">10000</text>
<text transform="translate(563.80 596.20) scale(1.06 1)" text-anchor="middle" class="h">THD=8.94%</text>
<text transform="translate(60.80 553.50) rotate(-90) scale(1.06 1)" text-anchor="middle" class="t">幅值(%基波)</text>
<text transform="translate(374.10 697.90) scale(1.06 1)" text-anchor="middle" class="t">频率/Hz</text>
</g>
</svg>
</body>
</html>
